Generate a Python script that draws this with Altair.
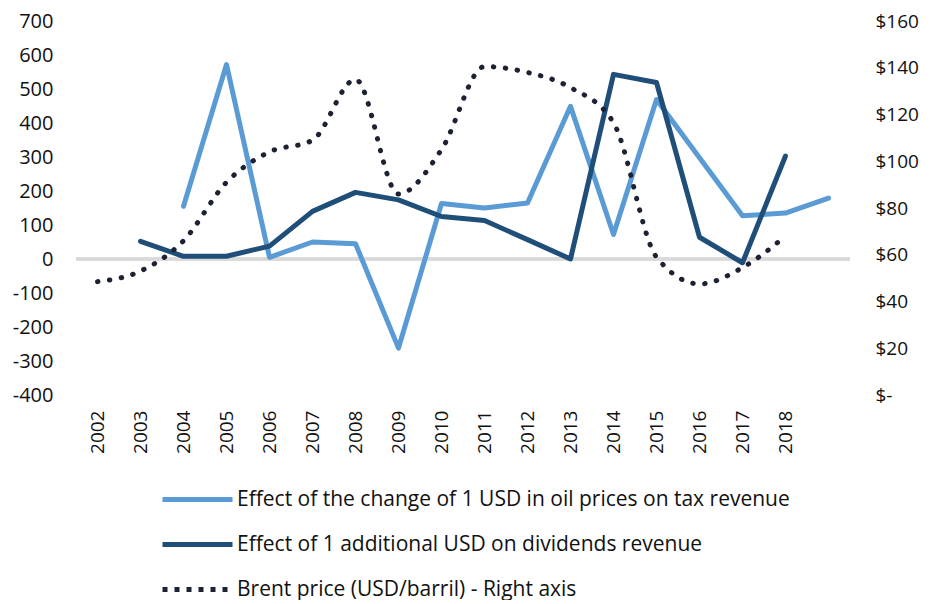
import altair as alt
import pandas as pd

years = ["2002", "2003", "2004", "2005", "2006", "2007", "2008", "2009", "2010",
         "2011", "2012", "2013", "2014", "2015", "2016", "2017", "2018", "2019"]
tax = [None, None, 155, 572, 5, 50, 45, -262, 163, 150, 165, 449, 72, 469, 298, 127, 135, 179]
div = [None, 52, 8, 8, 38, 140, 196, 174, 125, 113, 57, 0, 543, 519, 64, -11, 303, None]
brent = [48.5, 53, 66, 91, 104, 109, 135, 86, 105, 140.5, 138, 131.5, 116.5, 59, 47.5, 54.5, 68, None]

left_ticks = [-400, -300, -200, -100, 0, 100, 200, 300, 400, 500, 600, 700]
right_ticks = [0, 20, 40, 60, 80, 100, 120, 140, 160]

S_TAX = "Effect of the change of 1 USD in oil prices on tax revenue"
S_DIV = "Effect of 1 additional USD on dividends revenue"
S_BRENT = "Brent price (USD/barril) - Right axis"

C_TAX = "#5B9BD5"
C_DIV = "#1F4E79"
C_BRENT = "#1C2232"
TXT = "#111111"
FONT = "Open Sans"


def series_df(values, name):
    d = pd.DataFrame({"year": years, "v": values})
    d = d.dropna().copy()
    d["s"] = name
    return d


df_tax = series_df(tax, S_TAX)
df_div = series_df(div, S_DIV)
df_brent = series_df(brent, S_BRENT)

x_enc = alt.X(
    "year:N",
    sort=years,
    scale=alt.Scale(domain=years),
    axis=alt.Axis(
        title=None, labelAngle=270, labelFont=FONT, labelFontSize=19,
        labelColor=TXT, domain=False, ticks=False, labelPadding=15,
        labelExpr="datum.value == '2019' ? '' : datum.value",
    ),
)

left_scale = alt.Scale(domain=[-400, 700], nice=False, zero=False)
left_axis = alt.Axis(
    title=None, values=left_ticks, grid=False, domain=False, ticks=False,
    labelFont=FONT, labelFontSize=20, labelColor=TXT, labelPadding=23,
    labelExpr="'' + datum.value",
)


def legend(y, dash=None):
    kw = dict(
        orient="none", legendX=84, legendY=y, title=None, padding=0,
        symbolType="stroke", symbolSize=4900, symbolStrokeWidth=5,
        labelFont=FONT, labelFontSize=21, labelColor=TXT,
        labelLimit=800, labelOffset=2,
    )
    if dash is not None:
        kw["symbolDash"] = dash
    return alt.Legend(**kw)


zero_rule = alt.Chart(df_tax).mark_rule(color="#D9D9D9", strokeWidth=2.5).encode(
    y=alt.datum(0, scale=left_scale, axis=left_axis)
)

light = alt.Chart(df_tax).mark_line(strokeWidth=5, strokeCap="round", strokeJoin="round").encode(
    x=x_enc,
    y=alt.Y("v:Q", scale=left_scale, axis=left_axis),
    color=alt.Color("s:N", scale=alt.Scale(domain=[S_TAX], range=[C_TAX]), legend=legend(441)),
)

dark = alt.Chart(df_div).mark_line(strokeWidth=5, strokeCap="round", strokeJoin="round").encode(
    x=x_enc,
    y=alt.Y("v:Q", scale=left_scale, axis=left_axis),
    color=alt.Color("s:N", scale=alt.Scale(domain=[S_DIV], range=[C_DIV]), legend=legend(486)),
)

left = alt.layer(zero_rule, light, dark).resolve_scale(color="independent").resolve_legend(color="independent")

brent_line = alt.Chart(df_brent).mark_line(
    strokeWidth=5, strokeCap="round", strokeDash=[0.5, 11.5], interpolate="monotone"
).encode(
    x=x_enc,
    y=alt.Y(
        "v:Q",
        scale=alt.Scale(domain=[0, 160], nice=False),
        axis=alt.Axis(
            orient="right", title=None, values=right_ticks, grid=False, domain=False,
            ticks=False, labelFont=FONT, labelFontSize=19, labelColor=TXT,
            labelPadding=25,
            labelExpr="datum.value == 0 ? '$-' : '$' + datum.value",
        ),
    ),
    color=alt.Color("s:N", scale=alt.Scale(domain=[S_BRENT], range=[C_BRENT]), legend=legend(531, [5, 7])),
)

chart = (
    alt.layer(left, brent_line)
    .resolve_scale(y="independent", color="independent")
    .resolve_legend(color="independent")
    .properties(
        width=774, height=374,
        autosize=alt.AutoSizeParams(type="none"),
        padding={"left": 68, "top": 13, "right": 72, "bottom": 205},
        background="white",
    )
    .configure_view(stroke=None)
)

chart.save("out.html", embed_options={"renderer": "svg", "actions": False})
